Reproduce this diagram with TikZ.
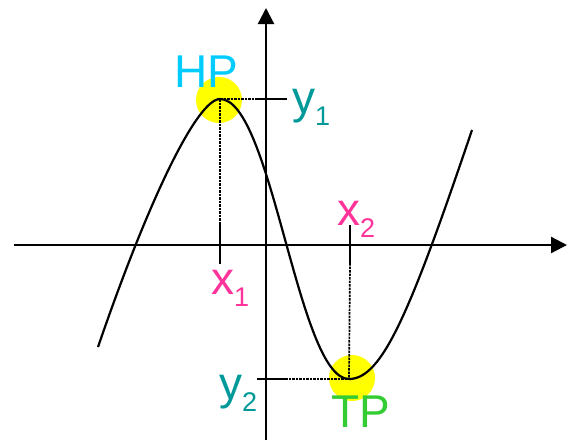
\documentclass[tikz,border=0pt]{standalone}
\usepackage{fontspec}
\setmainfont{Liberation Sans}
\usetikzlibrary{arrows.meta}
\definecolor{hpcyan}{HTML}{00CCFF}
\definecolor{tpgreen}{HTML}{33CC33}
\definecolor{xpink}{HTML}{FF3399}
\definecolor{yteal}{HTML}{009999}
\definecolor{marky}{HTML}{FFFF00}
\newcommand{\bigtxt}{\fontsize{46}{46}\selectfont}
\newcommand{\subtxt}[1]{\raisebox{-12pt}{\fontsize{27}{27}\selectfont #1}}
\begin{document}
\begin{tikzpicture}[x=1pt,y=-1pt,
  axisline/.style={line width=2.3pt,-{Triangle[length=16pt,width=16pt]}},
  curveline/.style={line width=2.2pt},
  tickline/.style={line width=2.2pt},
  guideline/.style={line width=1.7pt,dash pattern=on 2.5pt off 1pt},
  spot/.style={circle,fill=marky,minimum size=46pt,inner sep=0pt},
  lbl/.style={anchor=base west,inner sep=0pt,font=\bigtxt}]
\useasboundingbox (0,0) rectangle (575,440);
% marker circles
\node[spot] (hpspot) at (219,100) {};
\node[spot] (tpspot) at (352,378) {};
% axes
\coordinate (xl) at (14,245);
\coordinate (xr) at (567,245);
\coordinate (yb) at (266,440);
\coordinate (yt) at (266,8);
\draw[axisline] (xl) -- (xr);
\draw[axisline] (yb) -- (yt);
% curve
\coordinate (cs) at (98,347);
\coordinate (hp) at (220,99);
\coordinate (tp) at (349,379);
\coordinate (ce) at (472,130);
\draw[curveline] (cs) .. controls (150.5,194) and (198,99) .. (hp)
  .. controls (272,99) and (298,379) .. (tp)
  .. controls (382,379) and (409.6,314) .. (ce);
% guide lines and ticks
\coordinate (x1a) at (220,223);
\coordinate (x1b) at (220,264);
\coordinate (y1a) at (257,99);
\coordinate (y1b) at (287,99);
\coordinate (x2a) at (350,225);
\coordinate (x2b) at (350,263);
\coordinate (y2a) at (257,379);
\coordinate (y2b) at (285,379);
\draw[guideline] (hp) -- (x1a);
\draw[guideline] (hp) -- (y1a);
\draw[guideline] (x2b) -- (tp);
\draw[guideline] (y2b) -- (tp);
\draw[tickline] (x1a) -- (x1b);
\draw[tickline] (y1a) -- (y1b);
\draw[tickline] (x2a) -- (x2b);
\draw[tickline] (y2a) -- (y2b);
% labels
\node[lbl,text=hpcyan] (hplbl) at (174,87) {HP};
\node[lbl,text=tpgreen] (tplbl) at (331,427) {TP};
\node[lbl,text=xpink] (x1lbl) at (211,294) {x\subtxt{1}};
\node[lbl,text=xpink] (x2lbl) at (337,225) {x\subtxt{2}};
\node[lbl,text=yteal] (y1lbl) at (292,113) {y\subtxt{1}};
\node[lbl,text=yteal] (y2lbl) at (219,399) {y\subtxt{2}};
\end{tikzpicture}
\end{document}
